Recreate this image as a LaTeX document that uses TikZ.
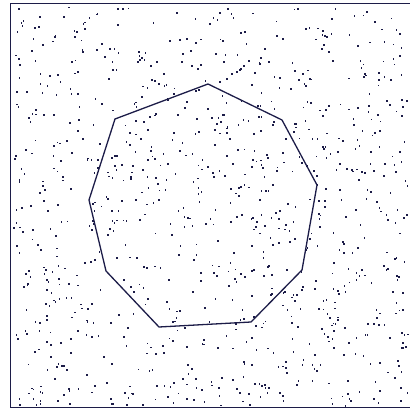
\documentclass[tikz,border=0pt]{standalone}
\definecolor{encre}{RGB}{28,28,72}
\begin{document}
\begin{tikzpicture}[x=0.5pt, y=-0.5pt]
    \useasboundingbox (0,0) rectangle (410,410);
    % Cadre
    \draw[encre, line width=0.8pt] (412,3.5) -- (10.5,3.5) -- (10.5,407.5) -- (412,407.5);

    % Points aleatoires
    \pgfmathsetseed{42}
    \foreach \i in {1,...,1000} {
        \pgfmathsetmacro{\px}{13+random()*394}
        \pgfmathsetmacro{\py}{6+random()*399}
        \fill[encre] (\px,\py) rectangle ++(1.6,1.8);
    }

    % Polygone
    \coordinate (p1) at (208,84);
    \coordinate (p2) at (282,120);
    \coordinate (p3) at (317,185);
    \coordinate (p4) at (302,270);
    \coordinate (p5) at (251,322);
    \coordinate (p6) at (159,327);
    \coordinate (p7) at (106,271);
    \coordinate (p8) at (89,200);
    \coordinate (p9) at (115,119);
    \draw[encre, line width=0.65pt] (p1) -- (p2) -- (p3) -- (p4) -- (p5) -- (p6) -- (p7) -- (p8) -- (p9) -- cycle;
\end{tikzpicture}
\end{document}
